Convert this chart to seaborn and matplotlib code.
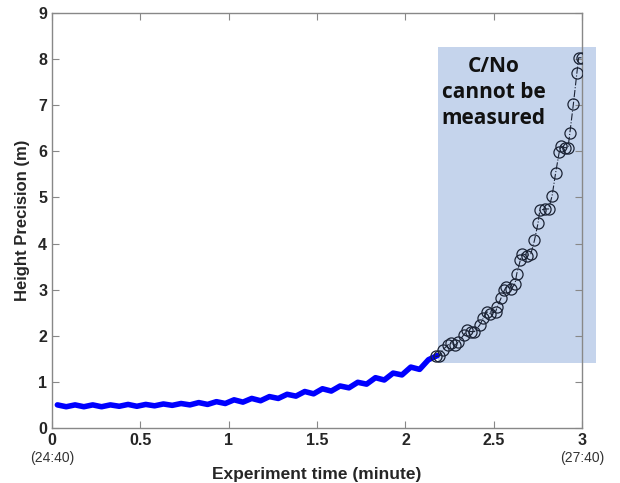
import numpy as np
import pandas as pd
import matplotlib
matplotlib.use("Agg")
import matplotlib.pyplot as plt
import seaborn as sns
from matplotlib.patches import Rectangle

# measured segment (C/No available)
t_meas = [0.030, 0.055, 0.080, 0.105, 0.130, 0.155, 0.180, 0.205, 0.230, 0.255,
          0.280, 0.305, 0.330, 0.355, 0.380, 0.405, 0.430, 0.455, 0.480, 0.505,
          0.530, 0.555, 0.580, 0.605, 0.630, 0.655, 0.680, 0.705, 0.730, 0.755,
          0.780, 0.805, 0.830, 0.855, 0.880, 0.905, 0.930, 0.955, 0.980, 1.005,
          1.030, 1.055, 1.080, 1.105, 1.130, 1.155, 1.180, 1.205, 1.230, 1.255,
          1.280, 1.305, 1.330, 1.355, 1.380, 1.405, 1.430, 1.455, 1.480, 1.505,
          1.530, 1.555, 1.580, 1.605, 1.630, 1.655, 1.680, 1.705, 1.730, 1.755,
          1.780, 1.805, 1.830, 1.855, 1.880, 1.905, 1.930, 1.955, 1.980, 2.005,
          2.030, 2.055, 2.080, 2.105, 2.130, 2.155, 2.180]
h_meas = [0.50, 0.48, 0.46, 0.48, 0.50, 0.48, 0.46, 0.48, 0.50, 0.48,
          0.46, 0.48, 0.50, 0.485, 0.47, 0.49, 0.51, 0.49, 0.47, 0.49,
          0.51, 0.495, 0.48, 0.50, 0.52, 0.505, 0.49, 0.51, 0.53, 0.515,
          0.50, 0.525, 0.55, 0.53, 0.51, 0.54, 0.57, 0.55, 0.53, 0.57,
          0.61, 0.585, 0.56, 0.60, 0.64, 0.615, 0.59, 0.635, 0.68, 0.66,
          0.64, 0.685, 0.73, 0.71, 0.69, 0.74, 0.79, 0.765, 0.74, 0.795,
          0.85, 0.825, 0.80, 0.855, 0.91, 0.89, 0.87, 0.93, 0.99, 0.97,
          0.95, 1.02, 1.09, 1.065, 1.04, 1.115, 1.19, 1.17, 1.15, 1.235,
          1.32, 1.295, 1.27, 1.375, 1.48, 1.525, 1.57]

# segment where C/No cannot be measured
t_est = [2.17, 2.19, 2.21, 2.24, 2.26, 2.28, 2.30, 2.33, 2.35, 2.37,
         2.39, 2.42, 2.44, 2.46, 2.48, 2.51, 2.52, 2.54, 2.56, 2.57,
         2.60, 2.62, 2.63, 2.65, 2.66, 2.69, 2.71, 2.73, 2.75, 2.76,
         2.79, 2.81, 2.83, 2.85, 2.87, 2.88, 2.90, 2.92, 2.93, 2.95,
         2.97, 2.98, 3.00]
h_est = [1.55, 1.56, 1.69, 1.80, 1.84, 1.79, 1.87, 2.02, 2.12, 2.09,
         2.09, 2.23, 2.38, 2.52, 2.48, 2.52, 2.63, 2.81, 2.99, 3.06,
         3.02, 3.13, 3.35, 3.64, 3.78, 3.74, 3.78, 4.07, 4.44, 4.72,
         4.75, 4.75, 5.04, 5.54, 5.98, 6.12, 6.08, 6.08, 6.39, 7.02,
         7.70, 8.03, 8.03]

x_ticks = [0, 0.5, 1, 1.5, 2, 2.5, 3]
y_ticks = list(range(10))

meas_df = pd.DataFrame({"t": t_meas, "h": h_meas})
est_df = pd.DataFrame({"t": t_est, "h": h_est})

sns.set_style("ticks")
plt.rcParams["font.family"] = ["Liberation Sans", "DejaVu Sans"]

fig = plt.figure(figsize=(6.2, 4.83), dpi=100)
ax = fig.add_axes([0.084, 0.114, 0.855, 0.859])

# shaded region
ax.add_patch(Rectangle((2.185, 1.41), 0.895, 6.85, facecolor="#c5d4ec",
                       edgecolor="none", zorder=0.5, clip_on=False))

sns.lineplot(data=meas_df, x="t", y="h", ax=ax, color="#0000ff",
             linewidth=4, sort=False, zorder=3)
sns.lineplot(data=est_df, x="t", y="h", ax=ax, color="#1b2335",
             linewidth=0.8, linestyle="-.", marker="o", markersize=8,
             markerfacecolor="none", markeredgecolor="#1b2335",
             markeredgewidth=0.9, sort=False, zorder=4)

ax.text(2.5, 7.27, "C/No\ncannot be\nmeasured", ha="center", va="center",
        multialignment="center", fontsize=15, fontweight="bold",
        family=["Open Sans", "DejaVu Sans"], linespacing=1.3,
        color="#111111", zorder=5)

ax.set_xlim(0, 3)
ax.set_ylim(0, 9)
ax.set_xticks(x_ticks)
ax.set_xticklabels(["0", "0.5", "1", "1.5", "2", "2.5", "3"])
ax.set_yticks(y_ticks)
ax.tick_params(direction="in", top=True, right=True, length=5,
               color="#888888", labelsize=11.5, labelcolor="#262626")
for lab in ax.get_xticklabels() + ax.get_yticklabels():
    lab.set_fontweight("bold")
for sp in ax.spines.values():
    sp.set_color("#888888")
    sp.set_linewidth(1.0)
    sp.set_zorder(2)

ax.set_xlabel("Experiment time (minute)", fontsize=12.5, fontweight="bold",
              color="#262626", labelpad=14)
ax.set_ylabel("Height Precision (m)", fontsize=12, fontweight="bold",
              color="#262626", labelpad=6)

ax.text(0, -0.055, "(24:40)", transform=ax.get_xaxis_transform(),
        ha="center", va="top", fontsize=10, color="#333333")
ax.text(3, -0.055, "(27:40)", transform=ax.get_xaxis_transform(),
        ha="center", va="top", fontsize=10, color="#333333")

fig.savefig("out.png", dpi=100)
